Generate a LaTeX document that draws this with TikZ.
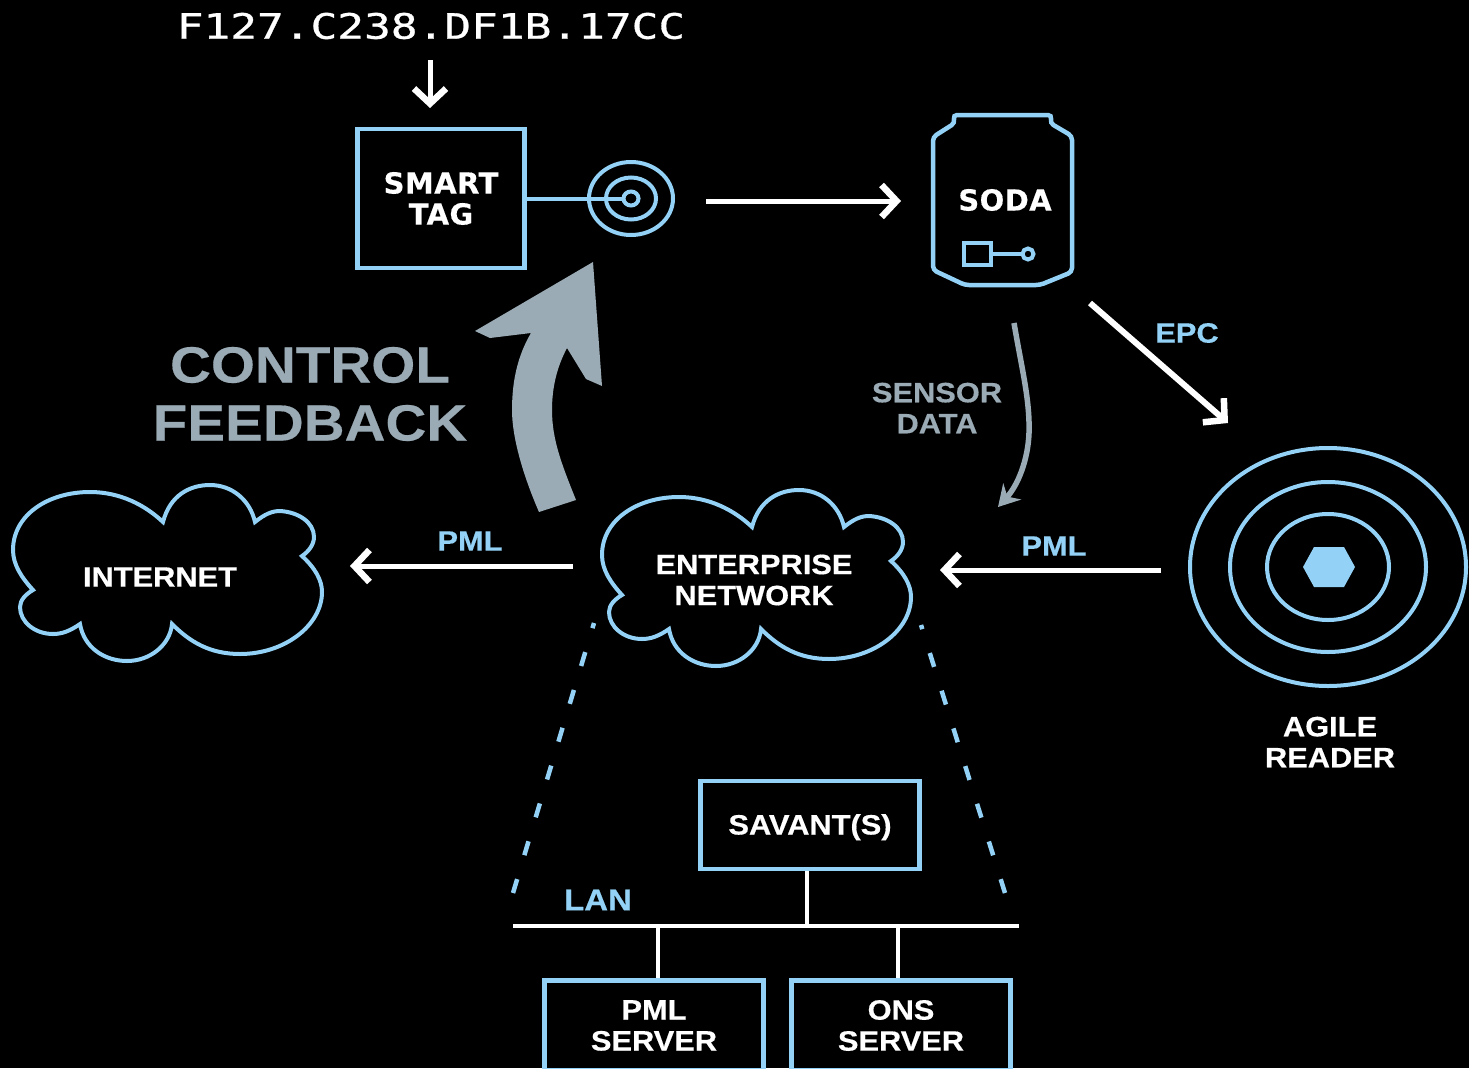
\documentclass[tikz,border=0pt]{standalone}
\usepackage{fontspec}
\usepackage{graphicx}
\usetikzlibrary{arrows.meta,shapes.geometric}
\newfontfamily\labfont[FakeStretch=1.1,FakeBold=0.5]{Liberation Sans}
\newfontfamily\bigfont[FakeStretch=1.11,FakeBold=0.3]{Liberation Sans}
\newfontfamily\tagfont[FakeBold=0.4,LetterSpace=1.5]{DejaVu Sans}
\newfontfamily\hexfont[FakeStretch=1.27,FakeBold=0.8]{DejaVu Sans Mono}
\definecolor{lblue}{HTML}{93D2F6}
\definecolor{lgray}{HTML}{9AABB5}
\tikzset{
  box/.style={draw=lblue,line width=4.5pt,rectangle,inner sep=0pt,text=white,align=center},
  lab/.style={inner sep=0pt,align=center,text=white,font=\labfont\bfseries\fontsize{28}{31}\selectfont},
  taglab/.style={inner sep=0pt,align=center,text=white,font=\tagfont\bfseries\fontsize{29}{31}\selectfont},
  bluelab/.style={lab,text=lblue},
  graylab/.style={lab,text=lgray},
  ring/.style={ellipse,draw=lblue,inner sep=0pt},
  wire/.style={draw=lblue,line width=4pt},
  barbarrow/.style={draw=white,line width=5pt,-{Straight Barb[length=15pt,width=32pt,line width=6.5pt]}},
  bus/.style={draw=white,line width=4pt},
  fanline/.style={draw=lblue,line width=4.5pt,dash pattern=on 14.5pt off 25pt},
  cloudline/.style={draw=lblue,line width=4pt,line join=miter}
}
\newcommand{\cloudpath}{
  (163,522) .. controls (170,495) and (190,485) .. (210,485)
  .. controls (232,485) and (250,500) .. (255,522)
  .. controls (265,514) and (272,511) .. (280,511)
  .. controls (298,512) and (314,522) .. (314,537)
  .. controls (314,545) and (308,552) .. (302,556)
  .. controls (315,568) and (322,580) .. (322,592)
  .. controls (322,625) and (285,654) .. (240,654)
  .. controls (210,654) and (190,642) .. (172,624)
  .. controls (170,645) and (150,661) .. (127,661)
  .. controls (105,661) and (84,648) .. (80,624)
  .. controls (70,631) and (62,634) .. (53,634)
  .. controls (35,634) and (20,622) .. (20,607)
  .. controls (20,600) and (26,594) .. (33,590)
  .. controls (22,578) and (13,565) .. (13,550)
  .. controls (13,515) and (48,492) .. (90,492)
  .. controls (120,492) and (145,505) .. (163,522) -- cycle
}
\begin{document}
\begin{tikzpicture}[x=1pt,y=-1pt]
\path[fill=black] (0,0) rectangle (1469,1068);
\useasboundingbox (0,0) rectangle (1469,1068);
\clip (0,0) rectangle (1469,1068);

% hex code and tag
\node[inner sep=0pt,text=white,font=\hexfont\fontsize{35}{36}\selectfont] (hex) at (431,26) {F127.C238.DF1B.17CC};
\coordinate (hexa) at (430,60);
\coordinate (hexb) at (430,108);
\draw[barbarrow] (hexa) -- (hexb);

\node[box,minimum width=167pt,minimum height=139pt,taglab] (tag) at (441,198.5) {SMART\\TAG};
\node[ring,line width=4pt,minimum width=84pt,minimum height=73pt] (ringa) at (631,198.5) {};
\node[ring,line width=4pt,minimum width=50pt,minimum height=42pt] (ringb) at (631,198.5) {};
\node[ring,line width=4pt,minimum width=15pt,minimum height=14pt] (ringc) at (631,198.5) {};
\draw[wire] (tag.east) -- (ringc.west);

\coordinate (ra) at (706,201);
\coordinate (rb) at (901,201);
\draw[barbarrow] (ra) -- (rb);

% soda
\draw[wire,line width=4.5pt,rounded corners=4pt] (953,115) -- (1052,115) -- (1050,123) -- (1072,136) -- (1072,272) -- (1040,285) -- (965,285) -- (933,270) -- (933,137) -- (955,123) -- cycle;
\node[taglab] (soda) at (1005,200) {SODA};
\node[box,minimum width=27pt,minimum height=22pt] (sq) at (977.5,254) {};
\node[ring,line width=4pt,minimum width=11pt,minimum height=11pt] (dot) at (1028,254) {};
\draw[wire,line width=3.5pt] (sq.east) -- (dot.west);

% EPC
\coordinate (ea) at (1090,303);
\coordinate (eb) at (1228,423);
\draw[barbarrow,line width=6pt] (ea) -- (eb);
\node[bluelab] (epc) at (1187,333) {EPC};

% sensor data
\coordinate (sa) at (1014,323);
\coordinate (sb) at (998,507);
\draw[draw=lgray,line width=5.5pt,-{Stealth[length=21pt,width=24pt,inset=7pt]}]
  (sa) .. controls (1022,370) and (1030,400) .. (1029,433) .. controls (1028,460) and (1018,485) .. (sb);
\node[graylab] (sensor) at (937,408) {SENSOR\\DATA};

% control feedback
\fill[lgray] (593,262) -- (475,331) -- (490,338) -- (531,333)
  .. controls (518,355) and (512,380) .. (512,410)
  .. controls (512,440) and (525,480) .. (539,512)
  -- (576,500)
  .. controls (562,465) and (552,440) .. (552,410)
  .. controls (552,385) and (558,365) .. (567,348)
  -- (586,379) -- (602,386) -- cycle;
\node[inner sep=0pt,align=center,text=lgray,font=\bigfont\bfseries\fontsize{51}{58}\selectfont] (ctrl) at (310,394) {CONTROL\\FEEDBACK};

% clouds
\draw[cloudline] \cloudpath;
\node[lab] (internet) at (160,577) {INTERNET};
\begin{scope}[shift={(589,5)}]
\draw[cloudline] \cloudpath;
\end{scope}
\node[lab] (enterprise) at (754,580) {ENTERPRISE\\NETWORK};

% PML arrows
\coordinate (pa) at (573,566);
\coordinate (pb) at (350,566);
\draw[barbarrow] (pa) -- (pb);
\node[bluelab] (pmla) at (470,541) {PML};
\coordinate (qa) at (1161,570);
\coordinate (qb) at (940,570);
\draw[barbarrow] (qa) -- (qb);
\node[bluelab] (pmlb) at (1054,546) {PML};

% reader
\node[ring,line width=4pt,minimum width=276pt,minimum height=238pt] (rda) at (1328,567) {};
\node[ring,line width=4pt,minimum width=196pt,minimum height=170pt] (rdb) at (1328,567) {};
\node[ring,line width=4pt,minimum width=122pt,minimum height=106pt] (rdc) at (1328,567) {};
\fill[lblue] (1303,567) -- (1314,547) -- (1344,547) -- (1355,567) -- (1344,587) -- (1314,587) -- cycle;
\node[lab] (reader) at (1330,742) {AGILE\\READER};

% fan
\coordinate (fla) at (513,893);
\coordinate (flb) at (594,623);
\coordinate (fra) at (1005,893);
\coordinate (frb) at (921,625);
\draw[fanline] (fla) -- (flb);
\draw[fanline] (fra) -- (frb);

% LAN
\node[box,minimum width=219pt,minimum height=88pt,lab] (savant) at (810,825) {\raisebox{-9.5pt}[0pt][0pt]{SAVANT(S)}};
\coordinate (lana) at (513,926);
\coordinate (lanb) at (1019,926);
\draw[bus] (lana) -- (lanb);
\node[bluelab,font=\labfont\bfseries\fontsize{30}{31}\selectfont] (lan) at (598,900) {LAN};
\node[box,minimum width=219pt,minimum height=90pt,lab] (pmlsrv) at (654,1025.5) {PML\\SERVER};
\node[box,minimum width=219pt,minimum height=90pt,lab] (onssrv) at (901,1025.5) {ONS\\SERVER};
\coordinate (sv) at (807,926);
\coordinate (pv) at (658,926);
\coordinate (ov) at (898,926);
\draw[bus] (savant.south -| sv) -- (sv);
\draw[bus] (pv) -- (pv |- pmlsrv.north);
\draw[bus] (ov) -- (ov |- onssrv.north);
\end{tikzpicture}
\end{document}
